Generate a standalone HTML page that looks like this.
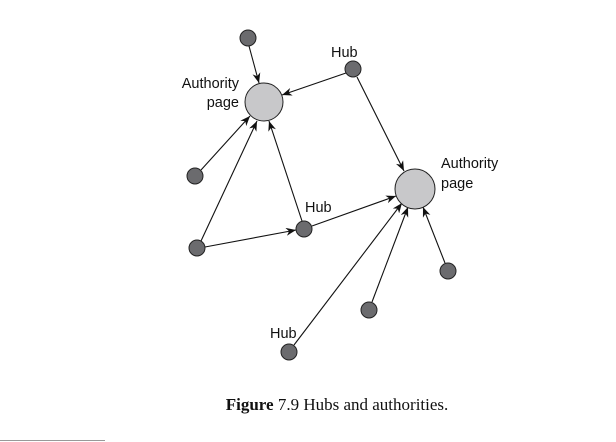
<!DOCTYPE html>
<html><head><style>
html,body{margin:0;padding:0;background:#fff;}
svg{display:block;}
</style></head><body>
<svg width="616" height="442" viewBox="0 0 616 442" xmlns="http://www.w3.org/2000/svg">
<defs>
<marker id="a" viewBox="0 0 10 8" refX="10" refY="4" markerWidth="10" markerHeight="8" markerUnits="userSpaceOnUse" orient="auto">
<path d="M0,0 L10,4 L0,8 L3,4 Z" fill="#111"/>
</marker>
</defs>
<g stroke="#111" stroke-width="1.1" fill="none" marker-end="url(#a)">
<line x1="249" y1="46" x2="259" y2="83"/>
<line x1="346" y1="73" x2="282" y2="95"/>
<line x1="357" y1="77" x2="404" y2="171"/>
<line x1="201" y1="170" x2="250" y2="116"/>
<line x1="201" y1="241" x2="257" y2="121"/>
<line x1="302" y1="221" x2="269" y2="121"/>
<line x1="205" y1="247" x2="296" y2="230"/>
<line x1="312" y1="226" x2="396" y2="196"/>
<line x1="294" y1="345" x2="402" y2="203"/>
<line x1="372" y1="302" x2="408" y2="207"/>
<line x1="445" y1="263" x2="423" y2="207"/>
</g>
<g fill="#6b6b6e" stroke="#222" stroke-width="1">
<circle cx="248" cy="38" r="8"/>
<circle cx="353" cy="69" r="8"/>
<circle cx="195" cy="176" r="8"/>
<circle cx="304" cy="229" r="8"/>
<circle cx="197" cy="248" r="8"/>
<circle cx="448" cy="271" r="8"/>
<circle cx="369" cy="310" r="8"/>
<circle cx="289" cy="352" r="8"/>
</g>
<g fill="#c8c8ca" stroke="#222" stroke-width="1">
<circle cx="264" cy="102" r="19"/>
<circle cx="415" cy="189" r="20"/>
</g>
<g font-family="Liberation Sans, sans-serif" font-size="14.5" fill="#111">
<text x="331" y="57">Hub</text>
<text x="239" y="88" text-anchor="end">Authority</text>
<text x="239" y="107" text-anchor="end">page</text>
<text x="305" y="212">Hub</text>
<text x="441" y="168">Authority</text>
<text x="441" y="188">page</text>
<text x="270" y="338">Hub</text>
</g>
<text x="337" y="410" text-anchor="middle" font-family="Liberation Serif, serif" font-size="17" fill="#111"><tspan font-weight="bold">Figure</tspan> 7.9  Hubs and authorities.</text>
<line x1="0" y1="440.5" x2="105" y2="440.5" stroke="#999" stroke-width="1"/>
</svg>
</body></html>
